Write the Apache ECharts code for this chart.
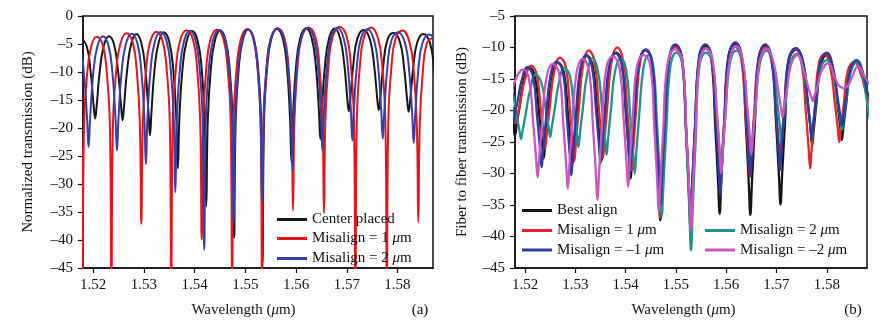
<!DOCTYPE html>
<html>
<head>
<meta charset="utf-8">
<script src="https://cdn.jsdelivr.net/npm/echarts@6/dist/echarts.min.js"></script>
<style>
  html, body { margin: 0; padding: 0; background: #fff; }
  #chart { width: 887px; height: 328px; }
</style>
</head>
<body>
<div id="chart"></div>
<script>
// ---- tick values ----
const xTicks = [1.52, 1.53, 1.54, 1.55, 1.56, 1.57, 1.58];

// ---- (a) simulated normalized transmission, [wavelength (um), dB] ----
const aCenter = [
[1.5174,-3.8],
[1.5187,-5.3],[1.5195,-9.9],[1.5201,-16.0],[1.5204,-18.3],[1.5207,-16.0],[1.5213,-9.9],[1.5221,-5.3],[1.5231,-3.6],
[1.5241,-5.0],[1.5249,-9.7],[1.5255,-16.0],[1.5258,-18.6],[1.5261,-16.0],[1.5267,-9.7],[1.5275,-5.0],[1.5285,-3.2],
[1.5295,-4.8],[1.5303,-9.6],[1.5309,-17.1],[1.5312,-21.3],[1.5315,-17.1],[1.5321,-9.6],[1.5329,-4.8],[1.53395,-2.9],
[1.5350,-4.6],[1.5358,-9.6],[1.5364,-18.3],[1.5367,-27.2],[1.5370,-18.3],[1.5376,-9.6],[1.5384,-4.6],[1.5395,-2.7],
[1.5406,-4.4],[1.5414,-9.5],[1.5420,-18.6],[1.5423,-34.0],[1.5426,-18.6],[1.5432,-9.5],[1.5440,-4.4],[1.54505,-2.55],
[1.5461,-4.3],[1.5469,-9.35],[1.5475,-18.6],[1.5478,-39.6],[1.5481,-18.6],[1.5487,-9.35],[1.5495,-4.3],[1.5506,-2.4],
[1.5517,-4.15],[1.5525,-9.2],[1.5531,-18.4],[1.5534,-44],[1.5537,-18.4],[1.5543,-9.2],[1.5551,-4.15],[1.55625,-2.3],
[1.5574,-4.05],[1.5582,-9.05],[1.5588,-18.0],[1.5591,-26],[1.5594,-18.0],[1.5600,-9.05],[1.5608,-4.05],[1.56195,-2.2],
[1.5631,-4.0],[1.5639,-8.85],[1.5645,-16.75],[1.5648,-22],[1.5651,-16.75],[1.5657,-8.85],[1.5665,-4.0],[1.5676,-2.25],
[1.5687,-4.0],[1.5695,-8.6],[1.5701,-14.7],[1.5704,-17.0],[1.5707,-14.7],[1.5713,-8.6],[1.5721,-4.0],[1.57335,-2.5],
[1.5746,-4.3],[1.5754,-8.85],[1.5760,-14.7],[1.5763,-16.8],[1.5766,-14.7],[1.5772,-8.85],[1.5780,-4.3],[1.57925,-3.0],
[1.5805,-4.7],[1.5813,-9.2],[1.5819,-15.0],[1.5822,-17.1],[1.5825,-15.0],[1.5831,-9.2],[1.5839,-4.7],[1.5851,-3.2],
[1.5864,-4.8],[1.5872,-9.3],[1.5878,-15.0],[1.5881,-17.0]
];
const aMis1 = [
[1.5162,-5.5],[1.5170,-10.55],[1.5176,-19.8],[1.5179,-48],[1.5182,-19.8],[1.5188,-10.55],[1.5196,-5.5],[1.52065,-3.7],
[1.5219,-5.2],[1.5227,-10.25],[1.5233,-19.5],[1.5236,-48],[1.5239,-19.5],[1.5245,-10.25],[1.5253,-5.2],[1.52655,-3.1],
[1.5278,-4.75],[1.5286,-9.8],[1.5292,-19.05],[1.5295,-37.1],[1.5298,-19.05],[1.5304,-9.8],[1.5312,-4.75],[1.53245,-2.8],
[1.5337,-4.5],[1.5345,-9.55],[1.5351,-18.8],[1.5354,-48],[1.5357,-18.8],[1.5363,-9.55],[1.5371,-4.5],[1.5384,-2.55],
[1.5397,-4.3],[1.5405,-9.35],[1.5411,-18.6],[1.5414,-39.9],[1.5417,-18.6],[1.5423,-9.35],[1.5431,-4.3],[1.5444,-2.4],
[1.5457,-4.15],[1.5465,-9.2],[1.5471,-18.45],[1.5474,-48],[1.5477,-18.45],[1.5483,-9.2],[1.5491,-4.15],[1.55035,-2.3],
[1.5516,-4.05],[1.5524,-9.1],[1.5530,-18.35],[1.5533,-48],[1.5536,-18.35],[1.5542,-9.1],[1.5550,-4.05],[1.55635,-2.2],
[1.5577,-3.9],[1.5585,-8.95],[1.5591,-18.2],[1.5594,-34.7],[1.5597,-18.2],[1.5603,-8.95],[1.5611,-3.9],[1.56245,-2.05],
[1.5638,-3.75],[1.5646,-8.8],[1.5652,-18.05],[1.5655,-35.2],[1.5658,-18.05],[1.5664,-8.8],[1.5672,-3.75],[1.5686,-1.9],
[1.5700,-3.75],[1.5708,-8.8],[1.5714,-18.05],[1.5717,-48],[1.5720,-18.05],[1.5726,-8.8],[1.5734,-3.75],[1.5748,-2.05],
[1.5762,-4.1],[1.5770,-9.15],[1.5776,-18.4],[1.5779,-48],[1.5782,-18.4],[1.5788,-9.15],[1.5796,-4.1],[1.5810,-2.6],
[1.5824,-4.8],[1.5832,-9.85],[1.5838,-19.1],[1.5841,-36.8],[1.5844,-19.1],[1.5850,-9.85],[1.5858,-4.8],[1.5870,-3.9]
];
const aMis2 = [
[1.5163,-4.0],
[1.5174,-5.55],[1.5182,-10.45],[1.5188,-18.3],[1.5191,-23.4],[1.5194,-18.3],[1.5200,-10.45],[1.5208,-5.55],[1.5219,-3.6],
[1.5230,-5.2],[1.5238,-10.1],[1.5244,-18.2],[1.5247,-24.0],[1.5250,-18.2],[1.5256,-10.1],[1.5264,-5.2],[1.52755,-3.15],
[1.5287,-4.8],[1.5295,-9.8],[1.5301,-18.4],[1.5304,-26.5],[1.5307,-18.4],[1.5313,-9.8],[1.5321,-4.8],[1.5333,-2.85],
[1.5345,-4.55],[1.5353,-9.6],[1.5359,-18.65],[1.5362,-31.5],[1.5365,-18.65],[1.5371,-9.6],[1.5379,-4.55],[1.53905,-2.65],
[1.5402,-4.4],[1.5410,-9.45],[1.5416,-18.7],[1.5419,-41.7],[1.5422,-18.7],[1.5428,-9.45],[1.5436,-4.4],[1.5448,-2.5],
[1.5460,-4.25],[1.5468,-9.3],[1.5474,-18.55],[1.5477,-37],[1.5480,-18.55],[1.5486,-9.3],[1.5494,-4.25],[1.5505,-2.4],
[1.5516,-4.1],[1.5524,-9.15],[1.5530,-18.4],[1.5533,-33.2],[1.5536,-18.4],[1.5542,-9.15],[1.5550,-4.1],[1.5563,-2.25],
[1.5576,-4.0],[1.5584,-9.0],[1.5590,-17.8],[1.5593,-27.5],[1.5596,-17.8],[1.5602,-9.0],[1.5610,-4.0],[1.56225,-2.1],
[1.5635,-3.9],[1.5643,-8.85],[1.5649,-17.2],[1.5652,-24.0],[1.5655,-17.2],[1.5661,-8.85],[1.5669,-3.9],[1.56815,-2.1],
[1.5694,-4.0],[1.5702,-8.85],[1.5708,-16.8],[1.5711,-22.2],[1.5714,-16.8],[1.5720,-8.85],[1.5728,-4.0],[1.5741,-2.35],
[1.5754,-4.4],[1.5762,-9.2],[1.5768,-17.0],[1.5771,-21.9],[1.5774,-17.0],[1.5780,-9.2],[1.5788,-4.4],[1.58015,-2.9],
[1.5815,-4.9],[1.5823,-9.75],[1.5829,-17.6],[1.5832,-22.7],[1.5835,-17.6],[1.5841,-9.75],[1.5849,-4.9],[1.58625,-3.3],
[1.5876,-5.1],[1.5884,-10.0]
];

// ---- (b) measured fiber-to-fiber transmission, [wavelength (um), dB] ----
const bBest = [
[1.5163,-15.35],[1.5171,-19.41],[1.5177,-22.47],[1.5180,-24],[1.5183,-22.47],[1.5189,-19.41],[1.5197,-15.35],[1.52085,-13.2],
[1.5220,-14.8],[1.5228,-20.52],[1.5234,-25.24],[1.5237,-27.6],[1.5240,-25.24],[1.5246,-20.52],[1.5254,-14.8],[1.52655,-12.4],
[1.5277,-13.85],[1.5285,-20.31],[1.5291,-25.77],[1.5294,-28.5],[1.5297,-25.77],[1.5303,-20.31],[1.5311,-13.85],[1.5323,-11.3],
[1.5335,-13.05],[1.5343,-19.63],[1.5349,-25.21],[1.5352,-28.0],[1.5355,-25.21],[1.5361,-19.63],[1.5369,-13.05],[1.5381,-10.8],
[1.5393,-12.6],[1.5401,-20.48],[1.5407,-27.36],[1.5410,-30.8],[1.5413,-27.36],[1.5419,-20.48],[1.5427,-12.6],[1.54395,-10.4],
[1.5452,-12.1],[1.5460,-22.82],[1.5466,-32.54],[1.5469,-37.4],[1.5472,-32.54],[1.5478,-22.82],[1.5486,-12.1],[1.5499,-9.8],
[1.5512,-11.75],[1.5520,-23.05],[1.5526,-33.35],[1.5529,-38.5],[1.5532,-33.35],[1.5538,-23.05],[1.5546,-11.75],[1.5558,-9.7],
[1.5570,-11.55],[1.5578,-22.09],[1.5584,-31.63],[1.5587,-36.4],[1.5590,-31.63],[1.5596,-22.09],[1.5604,-11.55],[1.56175,-9.4],
[1.5631,-11.55],[1.5639,-22.17],[1.5645,-31.79],[1.5648,-36.6],[1.5651,-31.79],[1.5657,-22.17],[1.5665,-11.55],[1.5678,-9.7],
[1.5691,-12.0],[1.5699,-21.76],[1.5705,-30.52],[1.5708,-34.9],[1.5711,-30.52],[1.5717,-21.76],[1.5725,-12.0],[1.57395,-10.3],
[1.5754,-12.7],[1.5762,-18.42],[1.5768,-23.14],[1.5771,-25.5],[1.5774,-23.14],[1.5780,-18.42],[1.5788,-12.7],[1.5800,-11.1],
[1.5813,-13.7],[1.5821,-18.7],[1.5827,-22.7],[1.5830,-24.7],[1.5833,-22.7],[1.5839,-18.7],[1.5847,-13.7],[1.5860,-12.3],
[1.5873,-14.5],[1.5881,-17.3],[1.5887,-19.1],[1.5890,-20]
];
const bMis1 = [
[1.5165,-15.3],[1.5173,-18.58],[1.5179,-20.86],[1.5182,-22],[1.5185,-20.86],[1.5191,-18.58],[1.5199,-15.3],[1.5212,-12.9],
[1.5223,-14.25],[1.5231,-19.55],[1.5237,-23.85],[1.5240,-26],[1.5243,-23.85],[1.5249,-19.55],[1.5257,-14.25],[1.5269,-11.6],
[1.5281,-13.0],[1.5289,-19.6],[1.5295,-25.2],[1.5298,-28],[1.5301,-25.2],[1.5307,-19.6],[1.5315,-13.0],[1.53265,-10.45],
[1.5338,-12.2],[1.5346,-18.92],[1.5352,-24.64],[1.5355,-27.5],[1.5358,-24.64],[1.5364,-18.92],[1.5372,-12.2],[1.53835,-10.0],
[1.5395,-12.15],[1.5403,-19.69],[1.5409,-26.23],[1.5412,-29.5],[1.5415,-26.23],[1.5421,-19.69],[1.5429,-12.15],[1.54405,-10.3],
[1.5452,-12.1],[1.5460,-22.66],[1.5466,-32.22],[1.5469,-37],[1.5472,-32.22],[1.5478,-22.66],[1.5486,-12.1],[1.5499,-9.9],
[1.5512,-12.0],[1.5520,-22.8],[1.5526,-32.6],[1.5529,-37.5],[1.5532,-32.6],[1.5538,-22.8],[1.5546,-12.0],[1.55585,-10.1],
[1.5571,-11.95],[1.5579,-20.57],[1.5585,-28.19],[1.5588,-32],[1.5591,-28.19],[1.5597,-20.57],[1.5605,-11.95],[1.56175,-9.8],
[1.5630,-11.9],[1.5638,-19.94],[1.5644,-26.98],[1.5647,-30.5],[1.5650,-26.98],[1.5656,-19.94],[1.5664,-11.9],[1.5677,-10.0],
[1.5690,-12.1],[1.5698,-18.86],[1.5704,-24.62],[1.5707,-27.5],[1.5710,-24.62],[1.5716,-18.86],[1.5724,-12.1],[1.5737,-10.2],
[1.5750,-12.6],[1.5758,-19.84],[1.5764,-26.08],[1.5767,-29.2],[1.5770,-26.08],[1.5776,-19.84],[1.5784,-12.6],[1.57955,-11.0],
[1.5808,-13.65],[1.5816,-18.79],[1.5822,-22.93],[1.5825,-25.0],[1.5828,-22.93],[1.5834,-18.79],[1.5842,-13.65],[1.5855,-12.3],
[1.5869,-14.5],[1.5877,-16.9],[1.5883,-18.3],[1.5886,-19]
];
const bMisNeg1 = [
[1.5159,-15.3],[1.5167,-18.58],[1.5173,-20.86],[1.5176,-22],[1.5179,-20.86],[1.5185,-18.58],[1.5193,-15.3],[1.52045,-13.1],
[1.5216,-14.7],[1.5224,-21.02],[1.5230,-26.34],[1.5233,-29],[1.5236,-26.34],[1.5242,-21.02],[1.5250,-14.7],[1.52625,-12.3],
[1.5275,-13.75],[1.5283,-20.97],[1.5289,-27.19],[1.5292,-30.3],[1.5295,-27.19],[1.5301,-20.97],[1.5309,-13.75],[1.5321,-11.2],
[1.5333,-13.05],[1.5341,-19.79],[1.5347,-25.53],[1.5350,-28.4],[1.5353,-25.53],[1.5359,-19.79],[1.5367,-13.05],[1.53795,-10.9],
[1.5392,-12.65],[1.5400,-19.99],[1.5406,-26.33],[1.5409,-29.5],[1.5412,-26.33],[1.5418,-19.99],[1.5426,-12.65],[1.5439,-10.4],
[1.5452,-11.95],[1.5460,-21.77],[1.5466,-30.59],[1.5469,-35],[1.5472,-30.59],[1.5478,-21.77],[1.5486,-11.95],[1.5499,-9.5],
[1.5512,-11.5],[1.5520,-22.3],[1.5526,-32.1],[1.5529,-37],[1.5532,-32.1],[1.5538,-22.3],[1.5546,-11.5],[1.55585,-9.5],
[1.5571,-11.35],[1.5579,-20.77],[1.5585,-29.19],[1.5588,-33.4],[1.5591,-29.19],[1.5597,-20.77],[1.5605,-11.35],[1.5618,-9.2],
[1.5631,-11.35],[1.5639,-19.61],[1.5645,-26.87],[1.5648,-30.5],[1.5651,-26.87],[1.5657,-19.61],[1.5665,-11.35],[1.56775,-9.5],
[1.5690,-11.8],[1.5698,-19.48],[1.5704,-26.16],[1.5707,-29.5],[1.5710,-26.16],[1.5716,-19.48],[1.5724,-11.8],[1.57385,-10.1],
[1.5753,-12.45],[1.5761,-17.87],[1.5767,-22.29],[1.5770,-24.5],[1.5773,-22.29],[1.5779,-17.87],[1.5787,-12.45],[1.5800,-10.8],
[1.5813,-13.4],[1.5821,-17.64],[1.5827,-20.88],[1.5830,-22.5],[1.5833,-20.88],[1.5839,-17.64],[1.5847,-13.4],[1.58595,-12.0],
[1.5872,-14.0],[1.5880,-16.9],[1.5886,-18.3],[1.5889,-19]
];
const bMis2 = [
[1.5165,-16],
[1.5175,-17.15],[1.5183,-20.69],[1.5189,-23.23],[1.5192,-24.5],[1.5195,-23.23],[1.5201,-20.69],[1.5209,-17.15],[1.5221,-14.3],
[1.5233,-15.75],[1.5241,-19.73],[1.5247,-22.71],[1.5250,-24.2],[1.5253,-22.71],[1.5259,-19.73],[1.5267,-15.75],[1.5278,-13.2],
[1.5289,-14.45],[1.5297,-19.59],[1.5303,-23.73],[1.5306,-25.8],[1.5309,-23.73],[1.5315,-19.59],[1.5323,-14.45],[1.5334,-11.7],
[1.5345,-13.75],[1.5353,-19.65],[1.5359,-24.55],[1.5362,-27],[1.5365,-24.55],[1.5371,-19.65],[1.5379,-13.75],[1.5390,-11.8],
[1.5401,-13.5],[1.5409,-20.7],[1.5415,-26.9],[1.5418,-30],[1.5421,-26.9],[1.5427,-20.7],[1.5435,-13.5],[1.5445,-11.2],
[1.5455,-13.0],[1.5463,-23.04],[1.5469,-32.08],[1.5472,-36.6],[1.5475,-32.08],[1.5481,-23.04],[1.5489,-13.0],[1.5501,-10.8],
[1.5513,-12.8],[1.5521,-25.16],[1.5527,-36.52],[1.5530,-42.2],[1.5533,-36.52],[1.5539,-25.16],[1.5547,-12.8],[1.5560,-10.8],
[1.5573,-12.65],[1.5581,-20.19],[1.5587,-26.73],[1.5590,-30],[1.5593,-26.73],[1.5599,-20.19],[1.5607,-12.65],[1.5620,-10.5],
[1.5633,-12.5],[1.5641,-19.1],[1.5647,-24.7],[1.5650,-27.5],[1.5653,-24.7],[1.5659,-19.1],[1.5667,-12.5],[1.5680,-10.5],
[1.5693,-12.75],[1.5701,-18.25],[1.5707,-22.75],[1.5710,-25],[1.5713,-22.75],[1.5719,-18.25],[1.5727,-12.75],[1.5740,-11.0],
[1.5753,-13.5],[1.5761,-18.3],[1.5767,-22.1],[1.5770,-24],[1.5773,-22.1],[1.5779,-18.3],[1.5787,-13.5],[1.5800,-12.0],
[1.5813,-14.15],[1.5821,-18.29],[1.5827,-21.43],[1.5830,-23],[1.5833,-21.43],[1.5839,-18.29],[1.5847,-14.15],[1.5859,-12.3],
[1.5871,-14.3],[1.5879,-18.18],[1.5885,-21.06],[1.5888,-22.5]
];
const bMisNeg2 = [
[1.5160,-19.36],[1.5163,-20],[1.5166,-19.36],[1.5172,-18.08],[1.5180,-15.3],[1.5196,-13.5],
[1.5208,-15.05],[1.5216,-21.87],[1.5222,-27.69],[1.5225,-30.6],[1.5228,-27.69],[1.5234,-21.87],[1.5242,-15.05],[1.5255,-12.6],
[1.5268,-14.2],[1.5276,-22.08],[1.5282,-28.96],[1.5285,-32.4],[1.5288,-28.96],[1.5294,-22.08],[1.5302,-14.2],[1.53145,-11.8],
[1.5327,-13.6],[1.5335,-22.44],[1.5341,-30.28],[1.5344,-34.2],[1.5347,-30.28],[1.5353,-22.44],[1.5361,-13.6],[1.53745,-11.4],
[1.5388,-13.3],[1.5396,-21.42],[1.5402,-28.54],[1.5405,-32.1],[1.5408,-28.54],[1.5414,-21.42],[1.5422,-13.3],[1.54355,-11.2],
[1.5449,-12.75],[1.5457,-22.65],[1.5463,-31.55],[1.5466,-36],[1.5469,-31.55],[1.5475,-22.65],[1.5483,-12.75],[1.5498,-10.3],
[1.5513,-12.25],[1.5521,-23.55],[1.5527,-33.85],[1.5530,-39],[1.5533,-33.85],[1.5539,-23.55],[1.5547,-12.25],[1.5560,-10.2],
[1.5573,-12.0],[1.5581,-19.8],[1.5587,-26.6],[1.5590,-30],[1.5593,-26.6],[1.5599,-19.8],[1.5607,-12.0],[1.5620,-9.8],
[1.5633,-12.0],[1.5641,-18.6],[1.5647,-24.2],[1.5650,-27],[1.5653,-24.2],[1.5659,-18.6],[1.5667,-12.0],[1.5681,-10.2],
[1.5695,-12.7],[1.5703,-16.62],[1.5709,-19.54],[1.5712,-21],[1.5715,-19.54],[1.5721,-16.62],[1.5729,-12.7],[1.5742,-11.2],
[1.5755,-13.85],[1.5763,-16.31],[1.5769,-17.77],[1.5772,-18.5],[1.5775,-17.77],[1.5781,-16.31],[1.5789,-13.85],[1.58025,-12.5],
[1.5816,-14.75],[1.5824,-16.05],[1.5830,-16.35],[1.5833,-16.5],[1.5836,-16.35],[1.5842,-16.05],[1.5850,-14.75],[1.5862,-13.0],
[1.5875,-14.6],[1.5883,-15.6],[1.5890,-16]
];

// ---- legend labels ----
const LABELS = {
  a0: 'Center placed',
  a1: 'Misalign = 1 μm',
  a2: 'Misalign = 2 μm',
  b0: 'Best align',
  b1: 'Misalign = 1 μm',
  b2: 'Misalign = 2 μm',
  b3: 'Misalign = \u20131 μm',
  b4: 'Misalign = \u20132 μm'
};

const FONT = "'Liberation Serif','Times New Roman',serif";
const INK = '#111';
const baseText = { color: INK, fontFamily: FONT, fontSize: 15 };
const richMu = { i: { color: INK, fontFamily: FONT, fontSize: 15, fontStyle: 'italic' } };
const withMu = s => s.replace('μ', '{i|μ}');
const dash = v => (v < 0 ? '\u2013' + Math.abs(v) : String(v));

function xAxis(gridIndex, max) {
  return {
    type: 'value', gridIndex, min: 1.518, max,
    axisLine: { show: true, onZero: false, lineStyle: { color: INK, width: 1.5 } },
    axisTick: { show: true, length: 5, customValues: xTicks, lineStyle: { color: INK, width: 1.2 } },
    axisLabel: Object.assign({ customValues: xTicks, margin: 10, formatter: v => v.toFixed(2) }, baseText),
    splitLine: { show: false }
  };
}
function yAxis(gridIndex, min, max, name, gap) {
  return {
    type: 'value', gridIndex, min, max, interval: 5,
    axisLine: { show: true, onZero: false, lineStyle: { color: INK, width: 1.5 } },
    axisTick: { show: true, length: 5, lineStyle: { color: INK, width: 1.2 } },
    axisLabel: Object.assign({ margin: 10, formatter: dash }, baseText),
    splitLine: { show: false },
    name, nameLocation: 'middle', nameGap: gap, nameTextStyle: baseText
  };
}
function line(key, data, xi, color, width) {
  return {
    name: key, type: 'line', xAxisIndex: xi, yAxisIndex: xi, data,
    color, showSymbol: false, symbol: 'none', smooth: 0.45,
    lineStyle: { color, width }, clip: true, silent: true
  };
}
function legendItem(key, left, top) {
  return {
    data: [key], left, top, padding: 0, itemGap: 0,
    icon: 'rect', itemWidth: 30, itemHeight: 3,
    formatter: k => withMu(LABELS[k]),
    textStyle: Object.assign({ rich: richMu }, baseText),
    selectedMode: false
  };
}

const chart = echarts.init(document.getElementById('chart'), null, { renderer: 'canvas' });
chart.setOption({
  animation: false,
  backgroundColor: '#fff',
  grid: [
    { left: 83, right: 454, top: 16, bottom: 60, show: true, borderColor: INK, borderWidth: 1.5, containLabel: false },
    { left: 515, right: 20, top: 16, bottom: 60, show: true, borderColor: INK, borderWidth: 1.5, containLabel: false }
  ],
  xAxis: [xAxis(0, 1.587), xAxis(1, 1.588)],
  yAxis: [
    yAxis(0, -45, 0, 'Normalized transmission (dB)', 47),
    yAxis(1, -45, -5, 'Fiber to fiber transmission (dB)', 45)
  ],
  legend: [
    legendItem('a0', 277, 212),
    legendItem('a1', 277, 231),
    legendItem('a2', 277, 251),
    legendItem('b0', 522, 203),
    legendItem('b1', 522, 223),
    legendItem('b3', 522, 242.5),
    legendItem('b2', 705, 223),
    legendItem('b4', 705, 242.5)
  ],
  graphic: [
    { type: 'text', x: 243.5, y: 310, silent: true,
      style: { text: withMu('Wavelength (μm)'), rich: richMu, align: 'center', verticalAlign: 'middle', fill: INK, fontFamily: FONT, fontSize: 15 } },
    { type: 'text', x: 683.5, y: 310, silent: true,
      style: { text: withMu('Wavelength (μm)'), rich: richMu, align: 'center', verticalAlign: 'middle', fill: INK, fontFamily: FONT, fontSize: 15 } },
    { type: 'text', x: 420, y: 310, silent: true,
      style: { text: '(a)', align: 'center', verticalAlign: 'middle', fill: INK, fontFamily: FONT, fontSize: 15 } },
    { type: 'text', x: 853, y: 310, silent: true,
      style: { text: '(b)', align: 'center', verticalAlign: 'middle', fill: INK, fontFamily: FONT, fontSize: 15 } }
  ],
  series: [
    line('a0', aCenter, 0, '#161616', 2),
    line('a1', aMis1, 0, '#e8141c', 2),
    line('a2', aMis2, 0, '#3640a6', 2),
    line('b0', bBest, 1, '#151515', 2.3),
    line('b1', bMis1, 1, '#e3262b', 2.3),
    line('b2', bMis2, 1, '#21918a', 2.3),
    line('b3', bMisNeg1, 1, '#2c3ba0', 2.3),
    line('b4', bMisNeg2, 1, '#c955c0', 2.3)
  ]
});
</script>
</body>
</html>
